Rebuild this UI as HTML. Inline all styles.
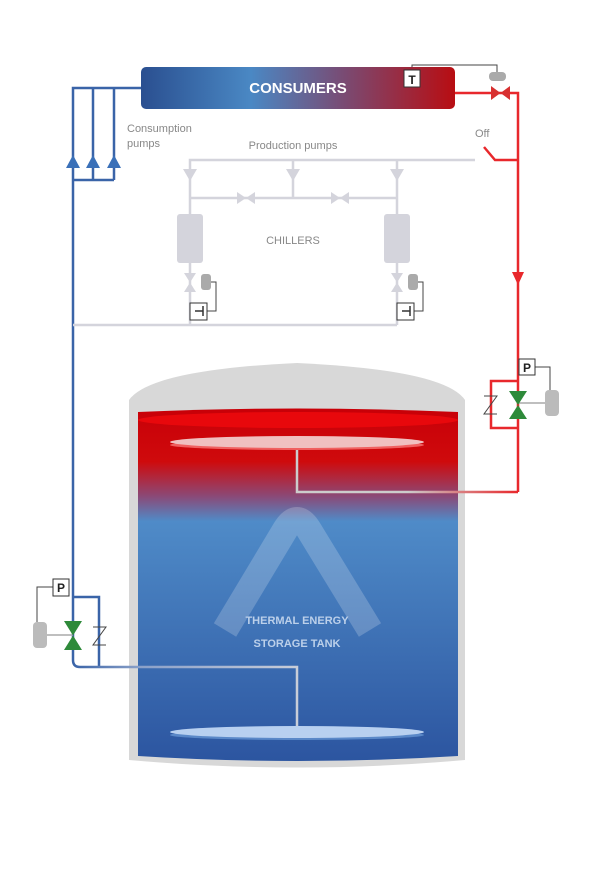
<!DOCTYPE html>
<html><head><style>body{margin:0;background:#fff}svg{display:block}text{font-family:"Liberation Sans",sans-serif}</style></head><body>
<svg width="604" height="872" viewBox="0 0 604 872">
<defs>
<linearGradient id="cg" x1="0" x2="1"><stop offset="0" stop-color="#2a4f90"/><stop offset="0.35" stop-color="#4a88c4"/><stop offset="0.65" stop-color="#7a4a72"/><stop offset="1" stop-color="#b80d12"/></linearGradient>
<linearGradient id="tg" x1="0" y1="0" x2="0" y2="1"><stop offset="0" stop-color="#c80008"/><stop offset="0.15" stop-color="#cf0a0c"/><stop offset="0.25" stop-color="#8a4a78"/><stop offset="0.32" stop-color="#4f8bc8"/><stop offset="1" stop-color="#2c55a0"/></linearGradient>
<linearGradient id="rg" gradientUnits="userSpaceOnUse" x1="297" x2="518" y1="0" y2="0"><stop offset="0" stop-color="#ccc"/><stop offset="0.5" stop-color="#ccc"/><stop offset="1" stop-color="#e8282c"/></linearGradient>
<linearGradient id="bg" gradientUnits="userSpaceOnUse" x1="73" x2="297" y1="0" y2="0"><stop offset="0" stop-color="#3a64a8"/><stop offset="0.3" stop-color="#8aa0c8"/><stop offset="1" stop-color="#c8cdd8"/></linearGradient>
</defs>
<g fill="none" stroke-width="2.5">
<path d="M141 88H73V660" stroke="#3a64a8"/>
<path d="M93 88V180M114 88V180M73 180H114" stroke="#3a64a8"/>
<path d="M73 597H99V667" stroke="#3a64a8"/>
<path d="M455 93H518V492" stroke="#e8282c"/>
<path d="M518 381H491V428H518" stroke="#e8282c"/>
<path d="M518 160H495L484 147" stroke="#e8282c"/>
<g stroke="#d4d4dc">
<path d="M190 325V160H475M293 160V198M397 160V325M190 198H397M73 325H397"/>
</g>
</g>
<g fill="none" stroke="#444" stroke-width="1">
<path d="M412 70V65H497V76"/>
<path d="M535 367H550V392"/>
<path d="M53 587H37V622"/>
<path d="M207 282H216V311H207M414 282H423V311H414"/>
</g>
<path d="M518 403H550M73 635H40" stroke="#aaa" stroke-width="1.5"/>
<rect x="141" y="67" width="314" height="42" rx="5" fill="url(#cg)"/>
<text x="298" y="93" fill="#fff" font-size="15" font-weight="bold" text-anchor="middle">CONSUMERS</text>
<rect x="404" y="70" width="16" height="17" fill="#fff" stroke="#333"/>
<text x="412" y="84" font-size="12" font-weight="bold" text-anchor="middle" fill="#222">T</text>
<rect x="489" y="72" width="17" height="9" rx="4" fill="#aaa"/>
<path d="M491 86L510 100V86L491 100Z" fill="#d83030"/>
<text x="475" y="137" font-size="11" fill="#888">Off</text>
<path d="M512 272H524L518 285Z" fill="#e8282c"/>
<g fill="#3a70b8"><path d="M66 168L73 155L80 168Z"/><path d="M86 168L93 155L100 168Z"/><path d="M107 168L114 155L121 168Z"/></g>
<text x="127" y="132" font-size="11" fill="#888">Consumption</text>
<text x="127" y="147" font-size="11" fill="#888">pumps</text>
<text x="293" y="149" font-size="11" fill="#888" text-anchor="middle">Production pumps</text>
<g fill="#d4d4dc">
<path d="M183 169H197L190 181Z"/><path d="M286 169H300L293 181Z"/><path d="M390 169H404L397 181Z"/>
<path d="M237 192L255 204V192L237 204Z"/><path d="M331 192L349 204V192L331 204Z"/>
<rect x="177" y="214" width="26" height="49" rx="3"/><rect x="384" y="214" width="26" height="49" rx="3"/>
<path d="M184 273H196L184 292H196Z"/><path d="M391 273H403L391 292H403Z"/>
</g>
<rect x="201" y="274" width="10" height="16" rx="3" fill="#aaa"/><rect x="408" y="274" width="10" height="16" rx="3" fill="#aaa"/>
<g fill="#fff" stroke="#333"><rect x="190" y="303" width="17" height="17"/><rect x="397" y="303" width="17" height="17"/></g>
<path d="M195 311H203M203 306V316M402 311H410M410 306V316" stroke="#333" stroke-width="1.5"/>
<text x="293" y="244" font-size="11" fill="#888" text-anchor="middle">CHILLERS</text>
<!-- tank -->
<path d="M129 400Q150 370 297 363Q445 370 465 400V760Q297 775 129 760Z" fill="#d8d8d8"/>
<path d="M138 412Q297 405 458 412V756Q297 766 138 756Z" fill="url(#tg)"/>
<ellipse cx="298" cy="420" rx="160" ry="8" fill="#e8080c"/>
<path d="M225 630L285 530Q297 510 309 530L370 630" fill="none" stroke="#fff" stroke-opacity="0.2" stroke-width="26"/>
<text x="297" y="624" font-size="11" font-weight="bold" fill="#bcd0ea" text-anchor="middle">THERMAL ENERGY</text>
<text x="297" y="647" font-size="11" font-weight="bold" fill="#bcd0ea" text-anchor="middle">STORAGE TANK</text>
<!-- pipes over tank -->
<path d="M518 492H297V445" fill="none" stroke="url(#rg)" stroke-width="2.5"/>
<path d="M73 660Q73 667 80 667H297V732" fill="none" stroke="url(#bg)" stroke-width="2.5"/>
<ellipse cx="297" cy="445" rx="127" ry="5" fill="#f06060"/>
<ellipse cx="297" cy="442" rx="127" ry="6" fill="#f0c0c0"/>
<ellipse cx="297" cy="735" rx="127" ry="5" fill="#5a88c8"/>
<ellipse cx="297" cy="732" rx="127" ry="6" fill="#b8d0f0"/>
<!-- right valve group -->
<path d="M509 391H527L509 419H527Z" fill="#2e8a3a"/>
<path d="M484 396H497L484 414H497" fill="none" stroke="#444" stroke-width="1"/>
<rect x="519" y="359" width="16" height="16" fill="#fff" stroke="#333"/>
<text x="527" y="372" font-size="12" font-weight="bold" text-anchor="middle" fill="#222">P</text>
<rect x="545" y="390" width="14" height="26" rx="4" fill="#bbb"/>
<!-- left valve group -->
<path d="M64 621H82L64 650H82Z" fill="#2e8a3a"/>
<path d="M93 627H106L93 645H106" fill="none" stroke="#444" stroke-width="1"/>
<rect x="53" y="579" width="16" height="17" fill="#fff" stroke="#333"/>
<text x="61" y="592" font-size="12" font-weight="bold" text-anchor="middle" fill="#222">P</text>
<rect x="33" y="622" width="14" height="26" rx="4" fill="#bbb"/>
</svg>
</body></html>
